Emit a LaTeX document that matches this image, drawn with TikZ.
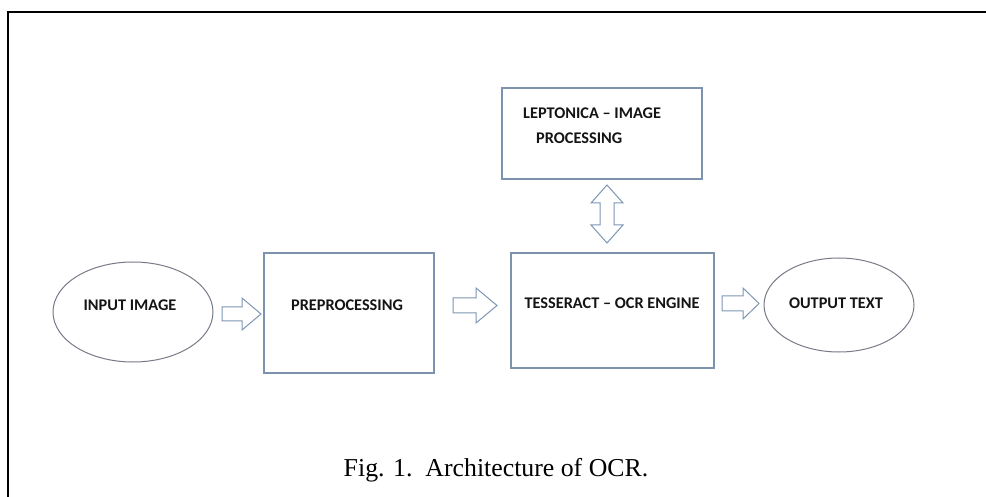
\documentclass[tikz,border=0pt]{standalone}
\usepackage{fontspec}
\setmainfont{Liberation Serif}
\newfontfamily\boxfont{Carlito}
\begin{document}
\begin{tikzpicture}[x=1pt,y=-1pt,
  boxcol/.style={draw={rgb,255:red,125;green,146;blue,172}, line width=1.1pt},
  ellcol/.style={draw={rgb,255:red,120;green,122;blue,135}, line width=1.0pt},
  blk/.style={draw={rgb,255:red,125;green,150;blue,180}, line width=1.0pt, fill=white, line join=miter},
  lbl/.style={font=\boxfont\bfseries\fontsize{16.3}{19}\selectfont, text={rgb,255:red,20;green,20;blue,20}, inner sep=0pt},
  captext/.style={font=\fontsize{25.8}{30}\selectfont, inner sep=0pt}
]
\useasboundingbox (0,0) rectangle (986,497);
% outer frame
\draw[line width=1.7pt] (986,12) -- (8,12) -- (8,497);

% shapes
\draw[ellcol] (133,312) ellipse (80 and 50);
\node[lbl] (in) at (130,305) {INPUT IMAGE};

\draw[boxcol] (264,253) rectangle (434,373);
\node[lbl] (pre) at (347,305) {PREPROCESSING};

\draw[boxcol] (511,253) rectangle (714,368);
\node[lbl] (tes) at (612,303) {TESSERACT – OCR ENGINE};

\draw[ellcol] (839,305) ellipse (75 and 47);
\node[lbl] (out) at (836,303) {OUTPUT TEXT};

\draw[boxcol] (502,88) rectangle (702,179);
\node[lbl, anchor=west] (lep1) at (523,113) {LEPTONICA – IMAGE};
\node[lbl, anchor=west] (lep2) at (536,138) {PROCESSING};

% block arrows
\draw[blk] (222,307) -- (242,307) -- (242,298) -- (261,314) -- (242,330) -- (242,321) -- (222,321) -- cycle;
\draw[blk] (453,298) -- (476,298) -- (476,288) -- (497,305.5) -- (476,323) -- (476,313) -- (453,313) -- cycle;
\draw[blk] (722,296) -- (743,296) -- (743,288) -- (759,303.5) -- (743,319) -- (743,311) -- (722,311) -- cycle;
\draw[blk] (600,203) -- (591,203) -- (607,185) -- (623,203) -- (614,203) -- (614,225) -- (623,225) -- (607,243) -- (591,225) -- (600,225) -- cycle;

% caption
\node[captext] (caption) at (496,470) {Fig. 1.\ \ Architecture of OCR.};
\end{tikzpicture}
\end{document}
